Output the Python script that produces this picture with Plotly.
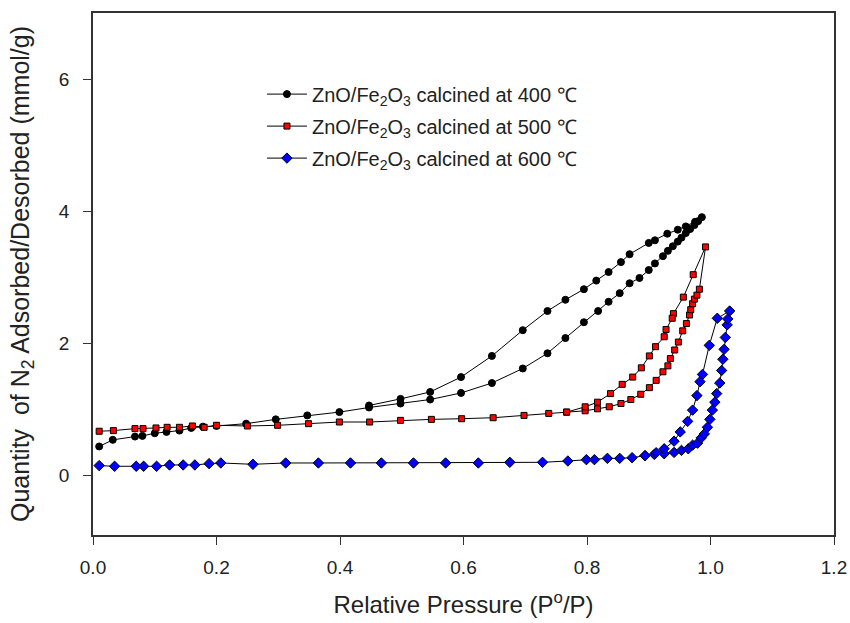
import plotly.graph_objects as go

# ---- data ----
p400_ads = [0.01, 0.032, 0.068, 0.08, 0.1, 0.119, 0.14, 0.159, 0.178, 0.2, 0.248, 0.296, 0.347, 0.399, 0.447,
            0.498, 0.546, 0.596, 0.646, 0.696, 0.736, 0.765, 0.795, 0.818, 0.835, 0.853, 0.869, 0.885, 0.9,
            0.91, 0.923, 0.931, 0.939, 0.947, 0.953, 0.96, 0.967, 0.974, 0.98, 0.986]
q400_ads = [0.44, 0.54, 0.59, 0.6, 0.64, 0.66, 0.68, 0.72, 0.74, 0.75, 0.785, 0.85, 0.91, 0.96, 1.03,
            1.09, 1.15, 1.25, 1.40, 1.62, 1.85, 2.08, 2.32, 2.49, 2.63, 2.76, 2.91, 2.99, 3.11,
            3.21, 3.32, 3.40, 3.47, 3.54, 3.60, 3.67, 3.73, 3.79, 3.85, 3.91]
p400_des = [0.975, 0.96, 0.947, 0.93, 0.91, 0.9, 0.869, 0.855, 0.835, 0.815, 0.795, 0.765, 0.736, 0.696,
            0.646, 0.596, 0.546, 0.498, 0.447]
q400_des = [3.84, 3.77, 3.72, 3.66, 3.56, 3.52, 3.35, 3.23, 3.08, 2.95, 2.82, 2.66, 2.49, 2.2,
            1.81, 1.49, 1.265, 1.16, 1.06]

p500_ads = [0.01, 0.033, 0.068, 0.081, 0.102, 0.12, 0.14, 0.161, 0.18, 0.2, 0.25, 0.299, 0.349, 0.399,
            0.448, 0.498, 0.548, 0.597, 0.648, 0.698, 0.738, 0.767, 0.797, 0.817, 0.836, 0.855, 0.871,
            0.887, 0.901, 0.912, 0.923, 0.931, 0.935, 0.942, 0.948, 0.955, 0.961, 0.966, 0.968, 0.971,
            0.974, 0.978, 0.982, 0.992]
q500_ads = [0.67, 0.68, 0.71, 0.71, 0.72, 0.73, 0.73, 0.75, 0.73, 0.76, 0.75, 0.76, 0.785, 0.81,
            0.81, 0.835, 0.85, 0.86, 0.875, 0.91, 0.94, 0.96, 0.98, 1.01, 1.04, 1.09, 1.15,
            1.23, 1.33, 1.44, 1.57, 1.66, 1.77, 1.90, 2.02, 2.19, 2.30, 2.43, 2.51, 2.60,
            2.67, 2.73, 2.82, 3.46]
p500_des = [0.972, 0.956, 0.94, 0.938, 0.928, 0.925, 0.911, 0.901, 0.888, 0.874, 0.857, 0.838, 0.817,
            0.797, 0.767]
q500_des = [3.04, 2.70, 2.45, 2.38, 2.21, 2.10, 1.95, 1.81, 1.63, 1.49, 1.38, 1.24, 1.11,
            1.04, 0.96]

p600_ads = [0.01, 0.035, 0.07, 0.082, 0.103, 0.124, 0.146, 0.165, 0.188, 0.207, 0.259, 0.312, 0.365,
            0.417, 0.467, 0.519, 0.571, 0.624, 0.675, 0.728, 0.769, 0.799, 0.812, 0.833, 0.853, 0.873,
            0.894, 0.909, 0.925, 0.941, 0.953, 0.964, 0.971, 0.979, 0.985, 0.99, 0.995, 0.999, 1.003,
            1.007, 1.01, 1.015, 1.018, 1.02, 1.022, 1.024, 1.027, 1.028, 1.031]
q600_ads = [0.15, 0.14, 0.14, 0.14, 0.14, 0.16, 0.16, 0.16, 0.18, 0.19, 0.17, 0.19, 0.19,
            0.19, 0.19, 0.19, 0.19, 0.19, 0.2, 0.2, 0.22, 0.24, 0.24, 0.26, 0.26, 0.27,
            0.30, 0.32, 0.33, 0.35, 0.38, 0.405, 0.46, 0.49, 0.57, 0.63, 0.73, 0.85, 0.99,
            1.11, 1.24, 1.40, 1.59, 1.76, 1.91, 2.09, 2.28, 2.37, 2.49]
p600_des = [1.011, 0.998, 0.987, 0.983, 0.978, 0.971, 0.963, 0.951, 0.941, 0.925, 0.912, 0.894]
q600_des = [2.38, 1.97, 1.53, 1.42, 1.21, 0.99, 0.82, 0.66, 0.52, 0.405, 0.345, 0.30]

names = ["ZnO/Fe<sub>2</sub>O<sub>3</sub> calcined at 400 \u2103",
         "ZnO/Fe<sub>2</sub>O<sub>3</sub> calcined at 500 \u2103",
         "ZnO/Fe<sub>2</sub>O<sub>3</sub> calcined at 600 \u2103"]

x_ticks = [0.0, 0.2, 0.4, 0.6, 0.8, 1.0, 1.2]
x_tick_labels = ["0.0", "0.2", "0.4", "0.6", "0.8", "1.0", "1.2"]
y_ticks = [0, 2, 4, 6]

series = [
    (p400_ads + p400_des, q400_ads + q400_des, "circle", "black", 7),
    (p500_ads + p500_des, q500_ads + q500_des, "square", "red", 6),
    (p600_ads + p600_des, q600_ads + q600_des, "diamond", "blue", 8),
]

fig = go.Figure()
for i, (xs, ys, sym, col, sz) in enumerate(series):
    fig.add_trace(go.Scatter(
        x=xs, y=ys, mode="lines+markers", name=names[i], legendgroup=f"g{i}",
        line=dict(color="black", width=1),
        marker=dict(symbol=sym, color=col, size=sz, line=dict(color="black", width=1)),
    ))

font = "Arial, 'Liberation Sans', sans-serif"
fig.update_layout(
    width=850, height=623,
    margin=dict(l=93, r=16, t=13, b=88, autoexpand=False),
    paper_bgcolor="white", plot_bgcolor="white",
    font=dict(family=font, color="#222"),
    showlegend=True,
    legend=dict(x=0.228, y=0.882, xanchor="left", yanchor="top",
                font=dict(size=20, family=font, color="#222"),
                bgcolor="rgba(0,0,0,0)", tracegroupgap=3, itemwidth=40),
    xaxis=dict(range=[0, 1.2], tickvals=x_ticks, ticktext=x_tick_labels, automargin=False,
               ticklabeloverflow="allow",
               showgrid=False, zeroline=False, showline=True, linecolor="#333", linewidth=1.5,
               mirror=True, ticks="outside", ticklen=8, tickcolor="#333", tickwidth=1.2,
               tickfont=dict(size=19), ticklabelstandoff=6,
               title=dict(text="Relative Pressure (P<sup>o</sup>/P)", font=dict(size=24), standoff=20)),
    yaxis=dict(range=[-0.9, 7], tickvals=y_ticks, automargin=False,
               showgrid=False, zeroline=False, showline=True, linecolor="#333", linewidth=1.5,
               mirror=True, ticks="outside", ticklen=8, tickcolor="#333", tickwidth=1.2,
               tickfont=dict(size=19), ticklabelstandoff=10,
               title=dict(text="Quantity  of N<sub>2</sub> Adsorbed/Desorbed (mmol/g)",
                          font=dict(size=25), standoff=22)),
)

fig.write_html("out.html")
